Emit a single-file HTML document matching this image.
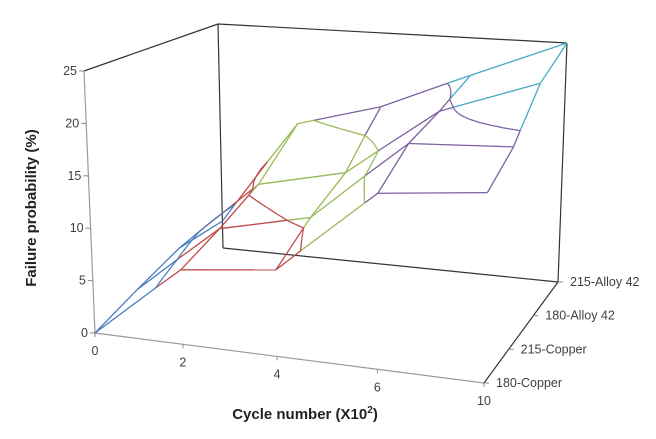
<!DOCTYPE html>
<html><head><meta charset="utf-8"><style>
html,body{margin:0;padding:0;background:#fff;}
svg{display:block;font-family:"Liberation Sans",sans-serif;}
</style></head><body>
<svg id="chart" width="656" height="439" viewBox="0 0 656 439" xmlns="http://www.w3.org/2000/svg">
<rect width="656" height="439" fill="#fff"/>
<g id="walls" fill="none" stroke-width="1.2">
<line x1="84" y1="71" x2="218" y2="24" stroke="#333"/>
<line x1="218" y1="24" x2="223" y2="248" stroke="#333"/>
<line x1="218" y1="24" x2="567" y2="43" stroke="#333"/>
<line x1="567" y1="43" x2="558" y2="282" stroke="#333"/>
<line x1="223" y1="248" x2="558" y2="282" stroke="#333"/>
<line x1="84" y1="71" x2="95" y2="333" stroke="#999"/>
<line x1="95" y1="333" x2="484" y2="383" stroke="#999"/>
<line x1="484" y1="383" x2="558" y2="282" stroke="#333"/>
</g>
<g id="surface" fill="none" stroke-width="1.3"></g>
<g id="labels" font-size="12.5" fill="#404040"></g>
<text x="36" y="208" transform="rotate(-90 36 208)" text-anchor="middle" font-size="15" font-weight="bold" fill="#222">Failure probability (%)</text>
<text x="305" y="419" text-anchor="middle" font-size="15" font-weight="bold" fill="#222">Cycle number (X10<tspan dy="-6" font-size="10">2</tspan><tspan dy="6">)</tspan></text>
</svg>
<script>
const xCategories = ['0','2','4','6','10'];
const seriesNames = ['180-Copper','215-Copper','180-Alloy 42','215-Alloy 42'];
const copper180 = [0, 7, 8, 16, 17];
const copper215 = [1.5, 8.5, 10.5, 18.5, 19];
const alloy180 = [3, 10.5, 12.5, 19.5, 23];
const alloy215 = [3, 14.5, 17, 21, 25];
const zTicks = [0, 5, 10, 15, 20, 25];

const seriesValues = [copper180, copper215, alloy180, alloy215];
const NS = 'http://www.w3.org/2000/svg';
const zMax = 25;
const FL=[95,333], FR=[484,383], BL=[223,248], BR=[558,282];
const FLt=[84,71], FRt=[489,103], BLt=[218,24], BRt=[567,43];
const bandColors=['#4a7ebb','#be4b48','#98b954','#7d60a0','#46aac5'];
function bil(a,b,c,d,u,v){return [(1-u)*(1-v)*a[0]+u*(1-v)*b[0]+(1-u)*v*c[0]+u*v*d[0],(1-u)*(1-v)*a[1]+u*(1-v)*b[1]+(1-u)*v*c[1]+u*v*d[1]];}
function proj(xi,si,z){
  let u=xi/(xCategories.length-1);
  u=u*(1-0.128*(1-u));
  const v=si/(seriesNames.length-1), w=z/zMax;
  const f=bil(FL,FR,BL,BR,u,v), t=bil(FLt,FRt,BLt,BRt,u,v);
  return [f[0]+w*(t[0]-f[0]), f[1]+w*(t[1]-f[1])];
}
function band(z){return bandColors[Math.max(0,Math.min(4,Math.floor(z/5)))];}
const surf=document.getElementById('surface');
function seg(p,q,color,name){
  const l=document.createElementNS(NS,'line');
  l.setAttribute('x1',p[0].toFixed(1));l.setAttribute('y1',p[1].toFixed(1));
  l.setAttribute('x2',q[0].toFixed(1));l.setAttribute('y2',q[1].toFixed(1));
  l.setAttribute('stroke',color);
  
  
  surf.appendChild(l);
}
function gridEdge(x0,s0,x1,s1,name){
  const z0=seriesValues[s0][x0], z1=seriesValues[s1][x1];
  const ts=[0];
  const lo=Math.min(z0,z1), hi=Math.max(z0,z1);
  for(let L=5;L<25;L+=5){ if(L>lo&&L<hi){ ts.push((L-z0)/(z1-z0)); } }
  ts.push(1); ts.sort((a,b)=>a-b);
  for(let k=0;k<ts.length-1;k++){
    const ta=ts[k], tb=ts[k+1], tm=(ta+tb)/2;
    const pa=proj(x0+(x1-x0)*ta, s0+(s1-s0)*ta, z0+(z1-z0)*ta);
    const pb=proj(x0+(x1-x0)*tb, s0+(s1-s0)*tb, z0+(z1-z0)*tb);
    seg(pa,pb,band(z0+(z1-z0)*tm),name);
  }
}
for(let s=0;s<seriesNames.length;s++) for(let i=0;i<xCategories.length-1;i++) gridEdge(i,s,i+1,s,'grid-row-'+s);
for(let i=0;i<xCategories.length;i++) for(let s=0;s<seriesNames.length-1;s++) gridEdge(i,s,i,s+1,'grid-col-'+i);
const N=8;
function zb(i,s,a,b){const v=seriesValues;return (1-a)*(1-b)*v[s][i]+a*(1-b)*v[s][i+1]+(1-a)*b*v[s+1][i]+a*b*v[s+1][i+1];}
for(let s=0;s<seriesNames.length-1;s++) for(let i=0;i<xCategories.length-1;i++){
  for(let ga=0;ga<N;ga++) for(let gb=0;gb<N;gb++){
    const P=[[ga/N,gb/N],[(ga+1)/N,gb/N],[(ga+1)/N,(gb+1)/N],[ga/N,(gb+1)/N]].map(p=>[p[0],p[1],zb(i,s,p[0],p[1])]);
    for(const tri of [[P[0],P[1],P[2]],[P[0],P[2],P[3]]]){
      for(let L=5;L<25;L+=5){
        const pts=[];
        for(let e=0;e<3;e++){const A=tri[e],B=tri[(e+1)%3];
          if((A[2]<L)!==(B[2]<L)){const t=(L-A[2])/(B[2]-A[2]);pts.push([A[0]+t*(B[0]-A[0]),A[1]+t*(B[1]-A[1])]);}}
        if(pts.length===2){
          seg(proj(i+pts[0][0],s+pts[0][1],L),proj(i+pts[1][0],s+pts[1][1],L),band(L-0.1),'contour-'+L);
        }
      }
    }
  }
}
const lab=document.getElementById('labels');
function txt(x,y,str,anchor,name){
  const t=document.createElementNS(NS,'text');
  t.setAttribute('x',x);t.setAttribute('y',y);t.setAttribute('text-anchor',anchor);
  t.textContent=str;
  
  
  lab.appendChild(t);
}
function tick(p,q,name){
  const l=document.createElementNS(NS,'line');
  l.setAttribute('x1',p[0]);l.setAttribute('y1',p[1]);l.setAttribute('x2',q[0]);l.setAttribute('y2',q[1]);
  l.setAttribute('stroke','#888');
  
  
  lab.appendChild(l);
}
zTicks.forEach(z=>{const p=proj(0,0,z);tick([p[0]-5,p[1]],p,'z-tick');txt(p[0]-7,p[1]+4,String(z),'end','z-tick-label');});
xCategories.forEach((c,i)=>{const p=proj(i,0,0);tick(p,[p[0],p[1]+4],'x-tick');txt(p[0],p[1]+22,c,'middle','x-tick-label');});
seriesNames.forEach((n,s)=>{const p=proj(4,s,0);tick(p,[p[0]+5,p[1]],'series-tick');txt(p[0]+12,p[1]+4,n,'start','series-tick-label');});
</script>
</body></html>
